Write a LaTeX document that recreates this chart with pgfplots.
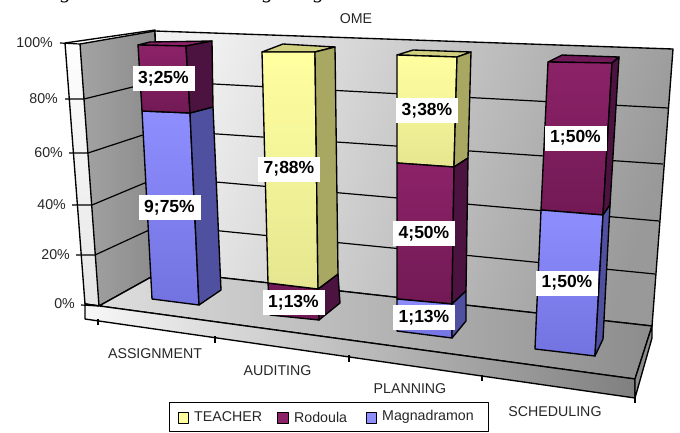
\documentclass[border=0pt]{standalone}
\usepackage{pgfplots}
\pgfplotsset{compat=1.18}
\usepackage{fontspec}
\setmainfont{Liberation Sans}
\newfontfamily\serifit[ItalicFont=Liberation Serif Italic]{Liberation Serif}
\definecolor{ybright}{HTML}{FFFFA0}\definecolor{ydark}{HTML}{E6E690}\definecolor{yside}{HTML}{A8A862}\definecolor{ytop}{HTML}{D0D080}
\definecolor{pbright}{HTML}{8C2268}\definecolor{pdark}{HTML}{721A55}\definecolor{pside}{HTML}{4C1240}\definecolor{ptop}{HTML}{701A58}
\definecolor{bbright}{HTML}{8E8EFF}\definecolor{bdark}{HTML}{7272E0}\definecolor{bside}{HTML}{5050A0}
\newcommand\poly[2][]{\addplot[draw=black,line width=1.35pt,line join=round,#1] coordinates {#2} -- cycle;}
\newcommand\seg[1]{\addplot[black,line width=1.2pt] coordinates {#1};}
\newcommand\lab[2]{\node[fill=white,inner sep=0pt,minimum width=62pt,minimum height=25pt,font=\fontsize{17.5}{20}\selectfont\bfseries] at (axis cs:#1) {#2};}
\newcommand\txt[3][center]{\node[anchor=#1,inner sep=0pt,font=\fontsize{14.2}{16}\selectfont,text=black!85] at (axis cs:#2) {#3};}
\begin{document}
\begin{tikzpicture}
\path[use as bounding box] (0,0) rectangle (680pt,432pt);
\begin{axis}[at={(0,0)},anchor=south west,scale only axis,width=680pt,height=432pt,
  xmin=0,xmax=680,ymin=0,ymax=432,y dir=reverse,axis lines=none,clip=false]
% left panel
\poly[top color=white,bottom color=gray!20]{(65,43)(155,30)(162,271)(99,306)(85,304)}
% left wall
\poly[left color=black!36,right color=black!46]{(80,44)(155,31)(162,271)(99,306)}
% back wall
\poly[left color=black!6,right color=black!40,shading angle=72]{(155,31)(673,49)(652,326)(162,271)}
% floor
\poly[left color=black!12,right color=black!45]{(85,304)(99,306)(162,271)(652,326)(635,379)}
% slab front
\poly[left color=black!3,right color=black!50]{(85,304)(635,379)(635,398)(85,319)}
\poly[fill=black!45]{(635,379)(652,326)(652,338)(635,398)}
% gridlines back wall
\seg{(157,81)(668,108)}
\seg{(158,130)(663,164)}
\seg{(159,177)(659,221)}
\seg{(160,225)(655,274)}
% gridlines left wall
\seg{(65,99)(84,99)(157,81)}
\seg{(69,153)(88,153)(158,130)}
\seg{(72,205)(92,205)(159,177)}
\seg{(76,255)(95,255)(160,225)}
\seg{(81,305)(99,306)}
\seg{(60,43)(80,44)}
% x ticks
\seg{(98,319)(98,325)}
\seg{(215,336)(215,343)}
\seg{(349,355)(349,362)}
\seg{(482,375)(482,381)}
\seg{(635,398)(635,403)}
% Bar 1
\poly[top color=pbright,bottom color=pbright]{(138,45)(150,42)(212,41)(186,46)}
\poly[top color=bbright,bottom color=bdark]{(142,111)(190,113)(199,305)(152,299)}
\poly[top color=bside,bottom color=bside]{(190,113)(213,107)(221,290)(199,305)}
\poly[top color=pbright,bottom color=pdark]{(138,45)(186,46)(190,113)(142,111)}
\poly[fill=pside]{(186,46)(212,41)(213,107)(190,113)}
% Bar 2
\poly[fill=ytop]{(262,52)(283,44)(335,47)(315,52)}
\poly[fill=pdark]{(268,283)(318,289)(319,320)(270,315)}
\poly[fill=pside]{(318,289)(338,274)(340,303)(319,320)}
\poly[top color=ybright,bottom color=ydark]{(262,52)(315,52)(318,289)(268,283)}
\poly[fill=yside]{(315,52)(335,47)(338,274)(318,289)}
% Bar 3
\poly[fill=ytop]{(397,55)(413,50)(471,52)(457,57)}
\poly[top color=ybright,bottom color=ydark]{(397,55)(457,57)(454,167)(397,163)}
\poly[fill=yside]{(457,57)(471,52)(468,158)(454,167)}
\poly[top color=pbright,bottom color=pdark]{(397,163)(454,167)(452,304)(397,299)}
\poly[fill=pside]{(454,167)(468,158)(466,291)(452,304)}
\poly[top color=bbright,bottom color=bdark]{(397,299)(452,304)(452,338)(397,331)}
\poly[fill=bside]{(452,304)(466,291)(466,321)(452,338)}
% Bar 4
\poly[fill=ptop]{(548,62)(562,55)(619,57)(612,63)}
\poly[top color=pbright,bottom color=pdark]{(548,62)(612,63)(603,215)(541,210)}
\poly[fill=pside]{(612,63)(619,57)(610,205)(603,215)}
\poly[top color=bbright,bottom color=bdark]{(541,210)(603,215)(595,356)(535,349)}
\poly[fill=bside]{(603,215)(610,205)(603,339)(595,356)}
% labels
\lab{163.5,78.5}{3;25\%}
\lab{169.5,207.5}{9;75\%}
\lab{289,169}{7;88\%}
\lab{293.5,302.5}{1;13\%}
\lab{427,110.5}{3;38\%}
\lab{424,233.5}{4;50\%}
\lab{424,317.5}{1;13\%}
\lab{575.5,138}{1;50\%}
\lab{567,283}{1;50\%}
% clipped line of text at the page's top edge, as in the reference
\node[anchor=base,inner sep=0pt,font=\serifit\itshape\fontsize{21}{24}\selectfont] at (axis cs:66,-1.5) {g};
\node[anchor=base,inner sep=0pt,font=\serifit\itshape\fontsize{21}{24}\selectfont] at (axis cs:268,-1.5) {g};
\node[anchor=base,inner sep=0pt,font=\serifit\itshape\fontsize{21}{24}\selectfont] at (axis cs:319,-1.5) {g};
% axis text
\txt{356,19}{OME}
\txt[east]{53,43}{100\%}
\txt[east]{58,99}{80\%}
\txt[east]{63,153}{60\%}
\txt[east]{66,205}{40\%}
\txt[east]{70,255}{20\%}
\txt[east]{75,304}{0\%}
\txt{155,354}{ASSIGNMENT}
\txt{277.5,371}{AUDITING}
\txt{410,389}{PLANNING}
\txt{555,412}{SCHEDULING}
% legend
\poly[fill=white,line width=1pt]{(169,402)(488,402)(488,431)(169,431)}
\poly[fill=ybright,line width=1pt]{(178,412)(188,412)(188,423)(178,423)}
\poly[fill=pbright,line width=1pt]{(277,412)(288,412)(288,423)(277,423)}
\poly[fill=bbright,line width=1pt]{(366,412)(376,412)(376,423)(366,423)}
\txt[west]{194,417}{TEACHER}
\txt[west]{294,417}{Rodoula}
\txt[west]{382,417}{Magnadramon}
\end{axis}
\end{tikzpicture}
\end{document}
